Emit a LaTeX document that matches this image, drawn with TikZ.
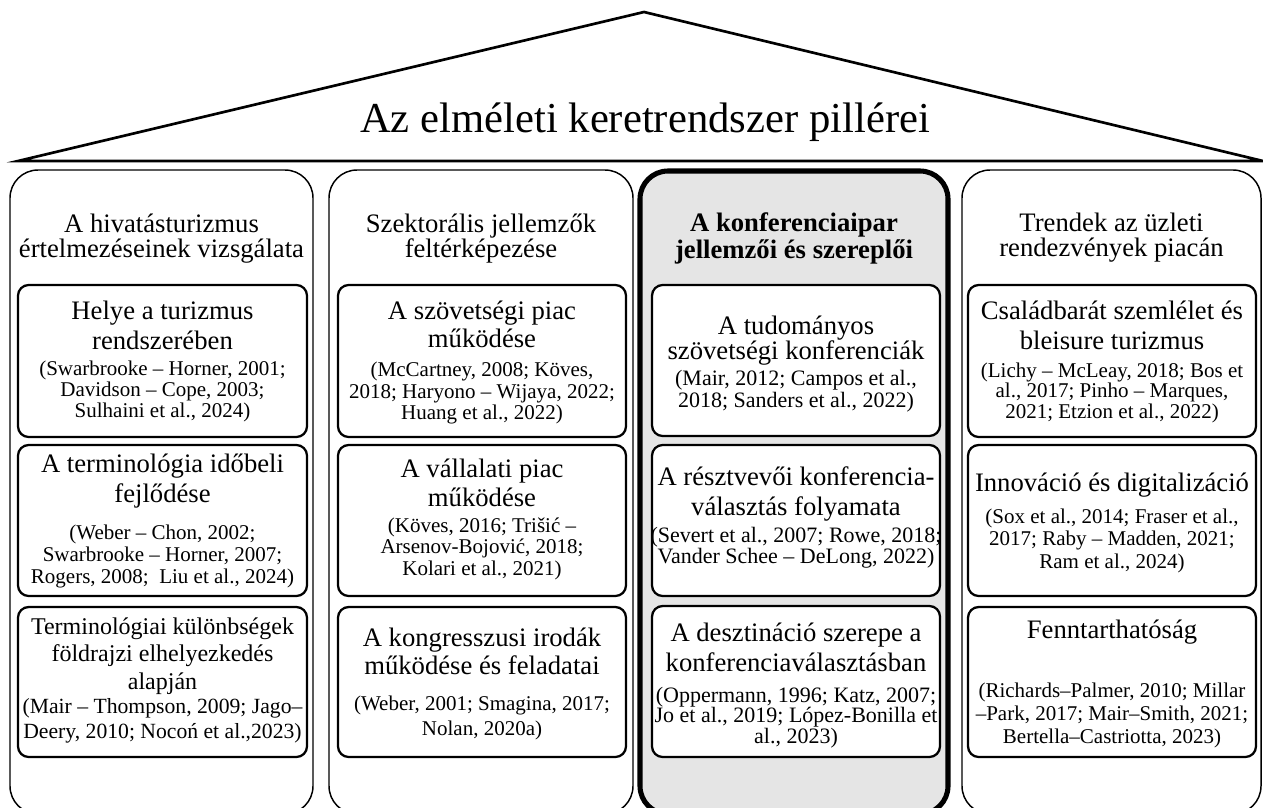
\documentclass[tikz,border=0pt]{standalone}
\usepackage{fontspec}
\setmainfont{Liberation Serif}
\begin{document}
\begin{tikzpicture}[x=0.75pt,y=-0.75pt,
  roof/.style={line width=2pt, line join=miter},
  colbox/.style={draw, line width=1.1pt, rounded corners=21pt},
  keybox/.style={draw, line width=3.8pt, fill=black!10, rounded corners=21pt},
  itembox/.style={draw, line width=1.7pt, rounded corners=8pt, fill=white},
  head/.style={align=center, inner sep=0pt, font=\fontsize{20}{#1}\selectfont},
  head/.default=18.75,
  ttl/.style={align=center, inner sep=0pt, font=\fontsize{20}{#1}\selectfont},
  ttl/.default=22.5,
  cite/.style={align=center, inner sep=0pt, font=\fontsize{15.75}{#1}\selectfont},
  cite/.default=16,
  citek/.style={align=center, inner sep=0pt, font=\fontsize{16.5}{#1}\selectfont},
]
\useasboundingbox (0,0) rectangle (1263,807);
\clip (0,0) rectangle (1263,807);

% roof
\draw[roof] (18,161) -- (644,12) -- (1263,161) -- cycle;
\node[anchor=base, inner sep=0pt, font=\fontsize{32}{38}\selectfont] (title) at (645,132) {Az elméleti keretrendszer pillérei};

% column 1
\draw[colbox] (10,170) rectangle (313,814);
\node[head] (h1) at (161.5,238.5) {A hivatásturizmus\\értelmezéseinek vizsgálata};
\draw[itembox] (18,285) rectangle (307,437);
\node[ttl] (t11) at (162.5,325) {Helye a turizmus\\rendszerében};
\node[cite=15.75] (c11) at (162.5,391) {(Swarbrooke – Horner, 2001;\\Davidson – Cope, 2003;\\Sulhaini et al., 2024)};
\draw[itembox] (18,445) rectangle (307,596);
\node[ttl] (t12) at (162.5,481) {A terminológia időbeli\\fejlődése};
\node[cite=16.5] (c12) at (162.5,556) {(Weber – Chon, 2002;\\Swarbrooke – Horner, 2007;\\Rogers, 2008;\ \ Liu et al., 2024)};
\draw[itembox] (18,607) rectangle (307,757);
\node[align=center, inner sep=0pt, font=\fontsize{18}{20.6}\selectfont] (t13) at (162.5,656) {Terminológiai különbségek\\földrajzi elhelyezkedés\\alapján};
\node[align=center, inner sep=0pt, font=\fontsize{16.25}{18.75}\selectfont] (c13) at (162.5,721) {(Mair – Thompson, 2009; Jago–\\Deery, 2010; Nocoń et al.,2023)};

% column 2
\draw[colbox] (329,170) rectangle (633,814);
\node[head] (h2) at (481,238.5) {Szektorális jellemzők\\feltérképezése};
\draw[itembox] (338,285) rectangle (626,437);
\node[ttl=21] (t21) at (482,324) {A szövetségi piac\\működése};
\node[cite=16.1] (c21) at (482,393) {(McCartney, 2008; Köves,\\2018; Haryono – Wijaya, 2022;\\Huang et al., 2022)};
\draw[itembox] (338,445) rectangle (626,596);
\node[ttl=21.75] (t22) at (482,482.5) {A vállalati piac\\működése};
\node[cite=16.1] (c22) at (482,548.5) {(Köves, 2016; Trišić –\\Arsenov-Bojović, 2018;\\Kolari et al., 2021)};
\draw[itembox] (338,607) rectangle (626,757);
\node[ttl=21] (t23) at (482,651) {A kongresszusi irodák\\működése és feladatai};
\node[cite=18.75] (c23) at (482,717.5) {(Weber, 2001; Smagina, 2017;\\Nolan, 2020a)};

% column 3 (highlighted)
\draw[keybox] (640,171) rectangle (948,814);
\node[align=center, inner sep=0pt, font=\fontsize{20}{20.5}\selectfont\bfseries] (h3) at (794,238.5) {A konferenciaipar\\jellemzői és szereplői};
\draw[itembox] (652,285) rectangle (940,436);
\node[ttl=18.75] (t31) at (796,340.5) {A tudományos\\szövetségi konferenciák};
\node[citek=16.5] (c31) at (796,391) {(Mair, 2012; Campos et al.,\\2018; Sanders et al., 2022)};
\draw[itembox] (652,445) rectangle (940,596);
\node[ttl] (t32) at (796,494) {A résztvevői konferencia-\\választás folyamata};
\node[citek=15.75] (c32) at (796,548) {(Severt et al., 2007; Rowe, 2018;\\Vander Schee – DeLong, 2022)};
\draw[itembox] (652,606) rectangle (940,757);
\node[ttl] (t33) at (796,647) {A desztináció szerepe a\\konferenciaválasztásban};
\node[citek=15.4] (c33) at (796,717.5) {(Oppermann, 1996; Katz, 2007;\\Jo et al., 2019; López-Bonilla et\\al., 2023)};

% column 4
\draw[colbox] (962,170) rectangle (1261,814);
\node[head=18.75] (h4) at (1111.5,237.5) {Trendek az üzleti\\rendezvények piacán};
\draw[itembox] (968,285) rectangle (1256,437);
\node[ttl] (t41) at (1112,325) {Családbarát szemlélet és\\bleisure turizmus};
\node[cite=15.4] (c41) at (1112,392.5) {(Lichy – McLeay, 2018; Bos et\\al., 2017; Pinho – Marques,\\2021; Etzion et al., 2022)};
\draw[itembox] (968,445) rectangle (1256,596);
\node[ttl] (t42) at (1112,485) {Innováció és digitalizáció};
\node[cite=16.9] (c42) at (1112,540.5) {(Sox et al., 2014; Fraser et al.,\\2017; Raby – Madden, 2021;\\Ram et al., 2024)};
\draw[itembox] (968,607) rectangle (1256,757);
\node[ttl] (t43) at (1112,632) {Fenntarthatóság};
\node[cite=17.25] (c43) at (1112,715) {(Richards–Palmer, 2010; Millar\\–Park, 2017; Mair–Smith, 2021;\\Bertella–Castriotta, 2023)};
\end{tikzpicture}
\end{document}
